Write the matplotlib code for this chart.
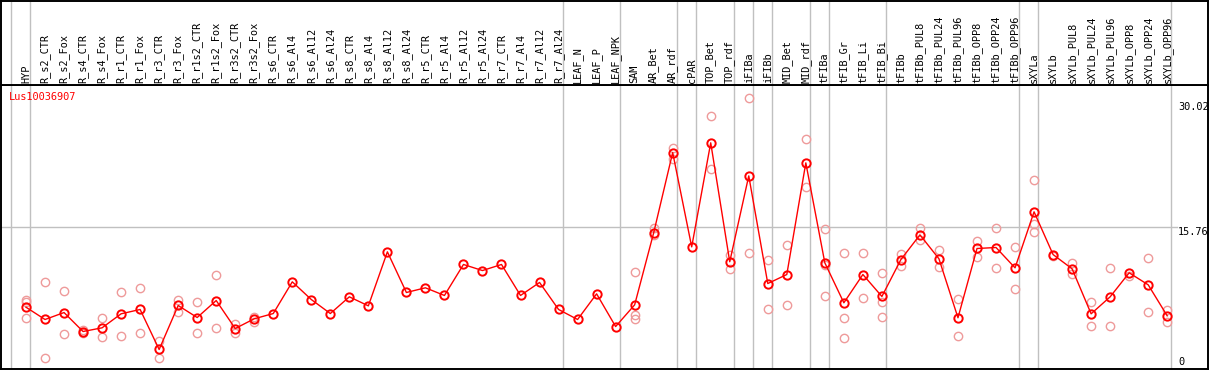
import matplotlib
matplotlib.use('Agg')
import matplotlib.pyplot as plt
import matplotlib.transforms as mtransforms

# ---------------- data ----------------
gene = "Lus10036907"
categories = ["HYP",
    "R_s2_CTR", "R_s2_Fox", "R_s4_CTR", "R_s4_Fox", "R_r1_CTR", "R_r1_Fox", "R_r3_CTR", "R_r3_Fox",
    "R_r1s2_CTR", "R_r1s2_Fox", "R_r3s2_CTR", "R_r3s2_Fox",
    "R_s6_CTR", "R_s6_Al4", "R_s6_Al12", "R_s6_Al24", "R_s8_CTR", "R_s8_Al4", "R_s8_Al12", "R_s8_Al24",
    "R_r5_CTR", "R_r5_Al4", "R_r5_Al12", "R_r5_Al24", "R_r7_CTR", "R_r7_Al4", "R_r7_Al12", "R_r7_Al24",
    "LEAF_N", "LEAF_P", "LEAF_NPK",
    "SAM", "AR_Bet", "AR_rdf",
    "cPAR",
    "TOP_Bet", "TOP_rdf",
    "iFIBa",
    "iFIBb",
    "MID_Bet", "MID_rdf",
    "tFIBa",
    "tFIB_Gr", "tFIB_Li", "tFIB_Bi",
    "tFIBb", "tFIBb_PUL8", "tFIBb_PUL24", "tFIBb_PUL96", "tFIBb_OPP8", "tFIBb_OPP24", "tFIBb_OPP96",
    "sXYLa",
    "sXYLb", "sXYLb_PUL8", "sXYLb_PUL24", "sXYLb_PUL96", "sXYLb_OPP8", "sXYLb_OPP24", "sXYLb_OPP96"]
group_sizes = [1, 28, 3, 3, 1, 2, 1, 1, 2, 1, 3, 7, 1, 7]

means = [6.84,
    5.48, 6.25, 4.15, 4.56, 6.11, 6.59, 2.16, 7.03,
    5.70, 7.58, 4.48, 5.56,
    6.14, 9.65, 7.69, 6.14, 7.99, 6.99, 12.97, 8.47,
    8.99, 8.14, 11.57, 10.90, 11.57, 8.14, 9.58, 6.59,
    5.48, 8.32, 4.70,
    7.10, 15.07, 23.96,
    13.52,
    25.04, 11.87,
    21.38,
    9.46,
    10.46, 22.82,
    11.75,
    7.33, 10.46, 8.03,
    12.12, 14.85, 12.20, 5.67, 13.34, 13.45, 11.20,
    17.40,
    12.67, 11.09, 6.11, 7.99, 10.65, 9.32, 5.89]

replicates = [[7.69, 7.39, 5.67],
    [9.65, 1.27], [8.69, 3.89], [4.37, 3.95], [5.67, 3.56], [8.54, 3.67], [8.99, 4.00], [3.15, 1.24], [7.62, 6.29],
    [7.44, 4.00], [10.43, 4.56], [4.96, 4.00], [5.78, 5.18],
    [], [], [], [], [], [], [], [],
    [], [], [], [], [], [], [], [],
    [], [], [],
    [10.79, 6.03, 5.56], [15.63, 14.81], [24.52, 23.26],
    [],
    [28.02, 22.16], [12.60, 11.09],
    [30.02, 12.86],
    [12.09, 6.66],
    [13.75, 7.10], [25.48, 20.17],
    [15.52, 11.46, 8.10],
    [12.79, 5.67, 3.45], [12.86, 7.84], [10.65, 7.44, 5.78],
    [12.71, 11.38], [15.59, 14.26], [13.12, 11.31], [7.77, 3.67], [14.22, 12.42], [15.63, 11.20], [13.52, 8.88],
    [20.94, 16.00, 15.15],
    [12.53], [11.68, 10.54], [7.44, 4.78], [11.20, 4.78], [10.35], [12.31, 6.33], [6.48, 5.18]]

y_labels = [30.02, 15.76, 0]

# ---------------- figure ----------------
W, H = 1209, 370
fig = plt.figure(figsize=(W / 100, H / 100), dpi=100)
font = "DejaVu Sans Mono"
fs = 7.4

L_px, R_px = 1, 1208
x0_px, step_px = 26, 19.02
xmin = (L_px - x0_px) / step_px
xmax = (R_px - x0_px) / step_px

sep_px = 85
bot_px = 369
ax = fig.add_axes([L_px / W, (H - bot_px) / H, (R_px - L_px) / W, (bot_px - sep_px) / H])
lab = fig.add_axes([L_px / W, (H - sep_px) / H, (R_px - L_px) / W, (sep_px - 0.5) / H])

ymax = 31.44
ax.set_xlim(xmin, xmax)
ax.set_ylim(0, ymax)
lab.set_xlim(xmin, xmax)
lab.set_ylim(0, 1)

for a in (ax, lab):
    a.set_xticks([])
    a.set_yticks([])
    for s in a.spines.values():
        s.set_linewidth(1.4)
        s.set_color('black')

grid_col = '#c0c0c0'
# group boundaries
bounds = [-1]
acc = -1
for g in group_sizes:
    acc += g
    bounds.append(acc)
for b in bounds:
    xb = b + 0.21
    ax.axvline(xb, color=grid_col, lw=1.0, zorder=1)
    lab.axvline(xb, color=grid_col, lw=1.0, zorder=1)

# horizontal line at middle label
x_end = (1177 - x0_px) / step_px
ax.plot([xmin, x_end], [y_labels[1], y_labels[1]], color=grid_col, lw=1.0, zorder=1)

xs = list(range(len(categories)))

# replicates
rx, ry = [], []
for i, r in enumerate(replicates):
    for v in r:
        rx.append(i)
        ry.append(v)
ax.plot(rx, ry, linestyle='none', marker='o', markersize=6.0, markerfacecolor='none',
        markeredgecolor='#ee9a9a', markeredgewidth=1.0, zorder=2)

# means
ax.plot(xs, means, color='#ff0000', lw=1.0, zorder=3)
ax.plot(xs, means, linestyle='none', marker='o', markersize=6.0, markerfacecolor='none',
        markeredgecolor='#ff0000', markeredgewidth=1.4, zorder=4)

# category labels
for i, c in enumerate(categories):
    lab.text(i, 0.025, c, rotation=90, ha='center', va='bottom', fontsize=fs,
             family=font, color='black')

# gene name
fig.text(9 / W, (H - 92) / H, gene, ha='left', va='top', fontsize=fs, family=font, color='#ff0000')

# value labels on right
xl = (1178 - L_px) / (R_px - L_px)
trans = mtransforms.blended_transform_factory(ax.transAxes, ax.transData)
offs = [(-4, 'top'), (0, 'top'), (2, 'bottom')]
for v, (o, va) in zip(y_labels, offs):
    ax.text(xl, v, f"{v:g}" if v == 0 else f"{v:.2f}", ha='left', va=va, fontsize=fs, family=font,
            color='black', transform=trans + mtransforms.ScaledTranslation(0, o / 100, fig.dpi_scale_trans))

fig.savefig('out.png', dpi=100)
